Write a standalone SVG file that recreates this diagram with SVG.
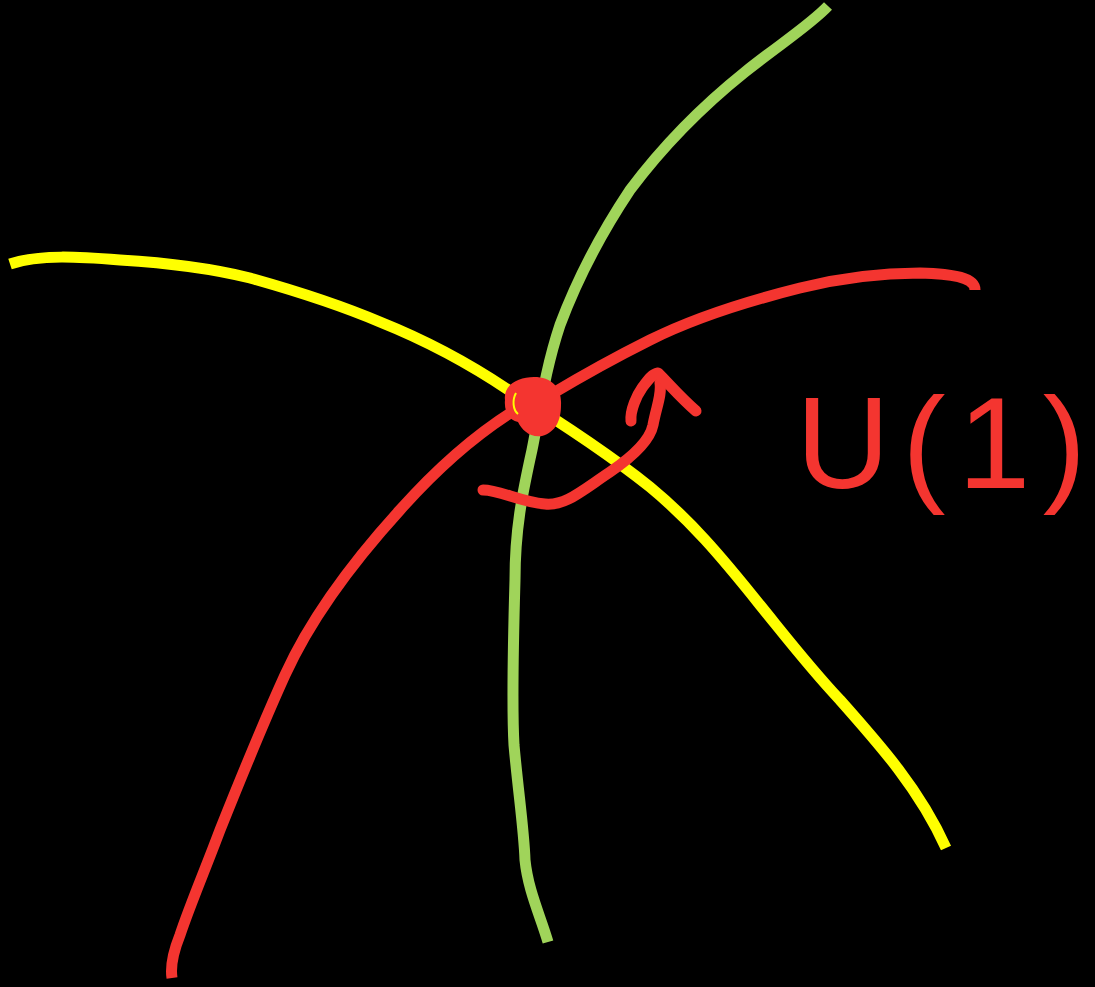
<svg xmlns="http://www.w3.org/2000/svg" width="1095" height="987" viewBox="0 0 1095 987">
<style>
.s{fill:none;stroke-width:11;stroke-linecap:butt;stroke-linejoin:round}
.y{stroke:#ffff00}.g{stroke:#a0d45a}.r{stroke:#f43530}
.t{fill:#f43530;font-family:"Liberation Sans",Arial,sans-serif;font-size:130px}
</style>
<rect width="1095" height="987" fill="#000"/>
<g id="connectors">
<path class="s y" d="M10,264 C40,254 80,257 120,260 C170,263 210,268 250,278 C300,292 340,305 380,322 C430,342 470,364 510,391 C560,422 610,455 650,487 C690,520 720,555 760,605 C790,642 810,668 840,700 C880,745 920,790 946,848"/>
<path class="s g" d="M828,6 C810,25 780,44 745,72 C700,108 660,150 630,190 C600,235 575,285 560,325 C545,370 540,410 532,450 C522,495 515,530 515,580 C513,650 512,710 514,745 C518,790 524,830 525,860 C528,890 540,915 548,942"/>
<path class="s r" d="M975,290 C975,278 955,274 920,273 C880,273 840,278 800,288 C740,303 690,320 650,340 C610,360 580,377 550,395"/>
<path class="s r" d="M515,410 C475,435 440,465 400,510 C350,565 310,620 285,675 C260,730 240,780 220,830 C205,870 190,905 180,935 C174,950 170,965 172,978"/>
<path class="s r" style="stroke-linecap:round" d="M483,490 C500,490 520,502 545,504 C565,506 580,492 610,472 C635,455 650,440 653,425 C656,408 662,395 660,383"/>
<path class="s r" style="stroke-linecap:round" d="M631,421 C630,410 637,395 642,388 C648,380 652,374 658,373 C670,385 680,397 696,411"/>
</g>
<g id="node-center">
<path d="M505,400 C503,385 518,377 534,377 C552,377 562,388 561,405 C561,420 556,432 542,436 C530,438 522,430 518,422 C508,420 504,410 505,400 Z" fill="#f43530"/>
<path d="M516,393 C512,400 513,410 518,414" fill="none" stroke="#ffff00" stroke-width="2"/>
</g>
<g id="label-u1">
<text class="t" x="796" y="488" textLength="290" lengthAdjust="spacing">U(1)</text>
</g>
</svg>
